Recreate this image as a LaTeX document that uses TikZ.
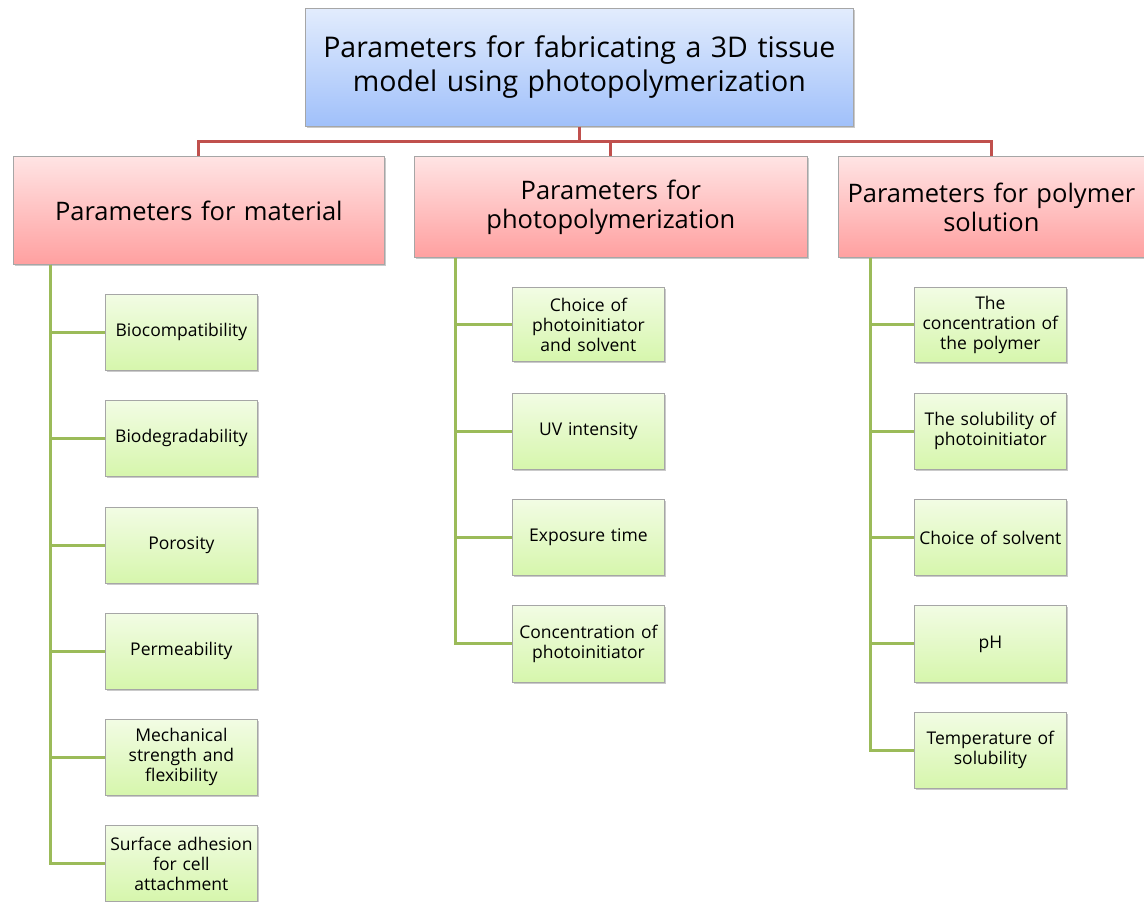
\documentclass[tikz,border=0pt]{standalone}
\usepackage{fontspec}
\setmainfont{Open Sans}
\usetikzlibrary{shadows}
\definecolor{redline}{HTML}{C0504D}
\definecolor{greenline}{HTML}{9BBB59}
\definecolor{boxborder}{HTML}{A6A6A6}
\tikzset{
  base/.style={draw=boxborder, line width=0.8pt, align=center, anchor=north west, inner sep=2pt,
    drop shadow={shadow xshift=2pt, shadow yshift=-2pt, opacity=0.35, fill=black!60}},
  titlebox/.style={base, top color={rgb,255:red,226;green,236;blue,253}, bottom color={rgb,255:red,160;green,192;blue,250},
    font=\fontsize{28.5}{34}\selectfont, minimum width=548pt, minimum height=118pt, text width=540pt},
  headbox/.style={base, top color={rgb,255:red,255;green,228;blue,228}, bottom color={rgb,255:red,255;green,160;blue,160},
    font=\fontsize{25.5}{29}\selectfont},
  leafbox/.style={base, top color={rgb,255:red,242;green,252;blue,228}, bottom color={rgb,255:red,214;green,246;blue,172},
    font=\fontsize{17.5}{20}\selectfont, minimum width=151pt, minimum height=76pt, text width=148pt},
  redconn/.style={draw=redline, line width=3pt},
  greenconn/.style={draw=greenline, line width=3pt}
}
\begin{document}
\begin{tikzpicture}[x=1pt,y=-1pt]
\useasboundingbox (0,0) rectangle (1144,902);
% title and headers
\node[titlebox] (title) at (305,8) {Parameters for fabricating a 3D tissue\\model using photopolymerization};
\node[headbox, minimum width=371pt, minimum height=108pt, text width=365pt] (mat) at (13,156) {Parameters for material};
\node[headbox, minimum width=393pt, minimum height=101pt, text width=385pt] (photo) at (414,156) {Parameters for\\photopolymerization};
\node[headbox, minimum width=305pt, minimum height=101pt, text width=302pt] (poly) at (838,156) {Parameters for polymer\\solution};
% red connectors
\draw[redconn] (title.south) -- ++(0,15) -| (mat.north);
\draw[redconn] (title.south) -- ++(0,15) -| (photo.north);
\draw[redconn] (title.south) -- ++(0,15) -| (poly.north);
% material leaves
\node[leafbox] (m1) at (105,294) {Biocompatibility};
\node[leafbox] (m2) at (105,400) {Biodegradability};
\node[leafbox] (m3) at (105,507) {Porosity};
\node[leafbox] (m4) at (105,613) {Permeability};
\node[leafbox] (m5) at (105,719) {Mechanical\\strength and\\flexibility};
\node[leafbox] (m6) at (105,825) {Surface adhesion\\for cell\\attachment};
% photopolymerization leaves
\node[leafbox, minimum height=74pt] (p1) at (512,287) {Choice of\\photoinitiator\\and solvent};
\node[leafbox] (p2) at (512,393) {UV intensity};
\node[leafbox] (p3) at (512,499) {Exposure time};
\node[leafbox, minimum height=77pt] (p4) at (512,605) {Concentration of\\photoinitiator};
% polymer solution leaves
\node[leafbox, minimum height=75pt] (s1) at (914,287) {The\\concentration of\\the polymer};
\node[leafbox] (s2) at (914,393) {The solubility of\\photoinitiator};
\node[leafbox] (s3) at (914,499) {Choice of solvent};
\node[leafbox, minimum height=77pt] (s4) at (914,605) {pH};
\node[leafbox] (s5) at (914,712) {Temperature of\\solubility};
% trunks
\coordinate (mt) at ([xshift=37pt]mat.south west);
\coordinate (pt) at ([xshift=41pt]photo.south west);
\coordinate (st) at ([xshift=32pt]poly.south west);
\foreach \n in {m1,m2,m3,m4,m5,m6} \draw[greenconn] (mt) |- (\n.west);
\foreach \n in {p1,p2,p3,p4} \draw[greenconn] (pt) |- (\n.west);
\foreach \n in {s1,s2,s3,s4,s5} \draw[greenconn] (st) |- (\n.west);
\end{tikzpicture}
\end{document}
